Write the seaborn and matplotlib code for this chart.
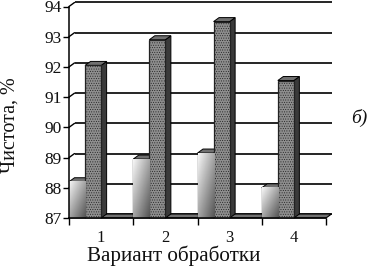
#!/usr/bin/env python
# coding: utf-8
import numpy as np
import pandas as pd
import seaborn as sns

import matplotlib
matplotlib.use('Agg')
import matplotlib.pyplot as plt
from matplotlib.patches import Polygon

# Значения с графика (две пустые серии дают ширину группы как в оригинале)
variants = ['1', '2', '3', '4']
series_names = ['a', 'b', 'c', 'd']
light_values = [88.2, 88.95, 89.15, 88.0]
dark_values = [92.05, 92.9, 93.5, 91.55]
empty_c = [87, 87, 87, 87]
empty_d = [87, 87, 87, 87]
y_ticks = [87, 88, 89, 90, 91, 92, 93, 94]

sns.set_theme(style='white')
plt.rcParams['font.family'] = ['Liberation Serif', 'DejaVu Sans']
plt.rcParams['hatch.linewidth'] = 0.4

df = pd.DataFrame({'variant': variants * 4,
                   'series': np.repeat(series_names, 4),
                   'value': light_values + dark_values + empty_c + empty_d})

W, H = 367, 267
fig = plt.figure(figsize=(W / 100, H / 100), dpi=100)
ax = fig.add_axes([69 / W, 1 - 218 / H, 257 / W, 211.5 / H])

sns.barplot(data=df, x='variant', y='value', hue='series', hue_order=series_names,
            order=variants, width=1, gap=0, legend=False, ax=ax, errorbar=None,
            palette=['#cccccc', '#808080', '#808080', '#808080'], saturation=1,
            edgecolor='black', linewidth=0.9, zorder=3)
ax.set_ylim(87, 94)
ax.set_xlim(-0.5, 3.5)

# смещение "глубины" в единицах данных
dx = 5.5 / 64.25
dy = 4 / 30.2

# задняя стенка: линии сетки и косые линии к оси
for y in y_ticks:
    ax.plot([-0.5 + dx, 3.5 + dx], [y + dy, y + dy], color='black', lw=1.2,
            zorder=1, clip_on=False, solid_capstyle='butt')
    ax.plot([-0.5, -0.5 + dx], [y, y + dy], color='black', lw=1.0, zorder=1,
            clip_on=False)

# пол
ax.add_patch(Polygon([(-0.5, 87), (3.5, 87), (3.5 + dx, 87 + dy), (-0.5 + dx, 87 + dy)],
                     closed=True, facecolor='#707070', edgecolor='black', lw=0.8,
                     zorder=2, clip_on=False))

# градиент для светлых столбцов и объём для всех
grad = np.add.outer(np.linspace(0, 1, 40), np.linspace(0, 1, 40)) / 2
bars = [p for p in ax.patches if isinstance(p, matplotlib.patches.Rectangle)]
n = len(variants)
for i, p in enumerate(bars[:2 * n]):
    x0, w, top = p.get_x(), p.get_width(), p.get_height()
    side = '#3a3a3a' if i >= n else '#555555'
    ax.add_patch(Polygon([(x0 + w, top), (x0 + w + dx, top + dy), (x0 + w + dx, 87 + dy), (x0 + w, 87)],
                         closed=True, facecolor=side, edgecolor='black', lw=0.7,
                         zorder=3, clip_on=False))
    ax.add_patch(Polygon([(x0, top), (x0 + dx, top + dy), (x0 + w + dx, top + dy), (x0 + w, top)],
                         closed=True, facecolor='#707070', edgecolor='black', lw=0.7,
                         zorder=3, clip_on=False))
    if i < n:
        ax.imshow(grad, cmap='gray_r', vmin=-0.05, vmax=1.5, aspect='auto',
                  extent=(x0, x0 + w, 87, top), zorder=3.5)
    else:
        # точечная штриховка тёмных столбцов
        p.set_hatch('.......')
        p.set_facecolor('#8e8e8e')
        p.set_edgecolor('#222222')
        p.set_zorder(3.5)
ax.set_xlim(-0.5, 3.5)
ax.set_ylim(87, 94)

# оси
sns.despine(ax=ax, top=True, right=True)
for s in ['left', 'bottom']:
    ax.spines[s].set_linewidth(1.1)
    ax.spines[s].set_color('black')
    ax.spines[s].set_zorder(6)
ax.set_yticks(y_ticks)
ax.set_yticklabels([str(y) for y in y_ticks], fontsize=12.5, color='#111111')
ax.set_xticks(np.arange(-0.5, 4), minor=True)
ax.set_xticks(range(4))
ax.set_xticklabels(variants, fontsize=12, color='#111111')
ax.tick_params(axis='x', which='major', length=0, pad=9)
ax.tick_params(axis='x', which='minor', length=5, width=1, color='black', bottom=True)
ax.tick_params(axis='y', length=4, width=1, color='black', left=True, pad=1)
ax.set_xlabel('')
ax.set_ylabel('')

fig.text(174 / W, 1 - 256 / H, 'Вариант обработки', fontsize=15.2, ha='center',
         va='center', color='#111111')
fig.text(10 / W, 1 - 125 / H, 'Чистота, %', fontsize=14.5, rotation=90, ha='center',
         va='center', color='#111111')
fig.text(359 / W, 1 - 118 / H, 'б)', fontsize=14, style='italic', ha='center',
         va='center', color='#111111')

fig.savefig('out.png', dpi=100)
